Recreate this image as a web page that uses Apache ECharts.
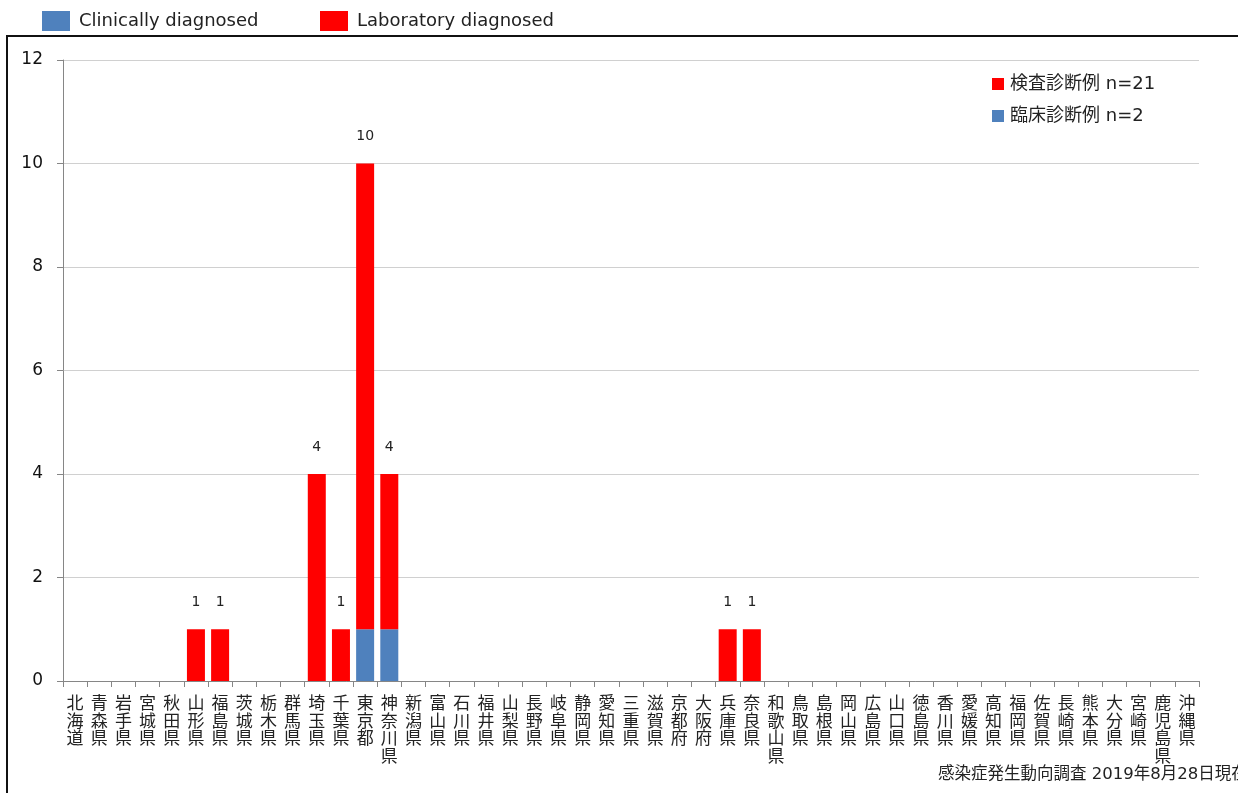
<!DOCTYPE html>
<html>
<head>
<meta charset="utf-8">
<script src="https://cdn.jsdelivr.net/npm/echarts@6/dist/echarts.min.js"></script>
<style>
html,body{margin:0;padding:0;background:#fff;}
#chart{width:1238px;height:793px;}
</style>
</head>
<body>
<div id="chart"></div>
<script>
const prefectures = ['北海道','青森県','岩手県','宮城県','秋田県','山形県','福島県','茨城県','栃木県','群馬県','埼玉県','千葉県','東京都','神奈川県','新潟県','富山県','石川県','福井県','山梨県','長野県','岐阜県','静岡県','愛知県','三重県','滋賀県','京都府','大阪府','兵庫県','奈良県','和歌山県','鳥取県','島根県','岡山県','広島県','山口県','徳島県','香川県','愛媛県','高知県','福岡県','佐賀県','長崎県','熊本県','大分県','宮崎県','鹿児島県','沖縄県'];
// values per prefecture (same order as prefectures)
const clinical = [
  0,0,0,0,0, 0,0,0,0,0,   // 北海道..群馬県
  0,0,1,1,0, 0,0,0,0,0,   // 埼玉県..長野県
  0,0,0,0,0, 0,0,0,0,0,   // 岐阜県..和歌山県
  0,0,0,0,0, 0,0,0,0,0,   // 鳥取県..福岡県
  0,0,0,0,0, 0,0          // 佐賀県..沖縄県
];
const laboratory = [
  0,0,0,0,0, 1,1,0,0,0,   // 北海道..群馬県
  4,1,9,3,0, 0,0,0,0,0,   // 埼玉県..長野県
  0,0,0,0,0, 0,0,1,1,0,   // 岐阜県..和歌山県
  0,0,0,0,0, 0,0,0,0,0,   // 鳥取県..福岡県
  0,0,0,0,0, 0,0          // 佐賀県..沖縄県
];
const yTicks = [0,2,4,6,8,10,12];
const seriesNames = ['Clinically diagnosed','Laboratory diagnosed'];
const jpLegend = {'Laboratory diagnosed':'検査診断例 n=21','Clinically diagnosed':'臨床診断例 n=2'};
const footnote = '感染症発生動向調査 2019年8月28日現在';
</script>
<script>
const FONT = 'DejaVu Sans, "Noto Sans CJK JP", sans-serif';
const totals = prefectures.map((_, i) => clinical[i] + laboratory[i]);
const chart = echarts.init(document.getElementById('chart'));
const legendCommon = {
  orient: 'horizontal', icon: 'rect', itemWidth: 28, itemHeight: 20, top: 6,
  textStyle: { fontFamily: FONT, fontSize: 18, color: '#222', padding: [0,0,0,4] },
  selectedMode: false
};
chart.setOption({
  animation: false,
  backgroundColor: '#fff',
  color: ['#4f81bd', '#ff0000'],
  legend: [
    Object.assign({}, legendCommon, { left: 37, data: [seriesNames[0]] }),
    Object.assign({}, legendCommon, { left: 315, data: [seriesNames[1]] }),
    {
      orient: 'vertical', icon: 'rect', itemWidth: 12, itemHeight: 12,
      left: 987, top: 70, itemGap: 14, selectedMode: false,
      data: [seriesNames[1], seriesNames[0]],
      formatter: n => jpLegend[n],
      textStyle: { fontFamily: FONT, fontSize: 18, color: '#222', lineHeight: 18, padding: [0,0,0,1] }
    }
  ],
  grid: { left: 63, right: 39, top: 60, bottom: 112, containLabel: false },
  xAxis: {
    type: 'category',
    data: prefectures,
    boundaryGap: true,
    axisLine: { lineStyle: { color: '#868686', width: 1 } },
    axisTick: { show: true, length: 6, lineStyle: { color: '#868686' } },
    axisLabel: {
      interval: 0, margin: 15,
      fontFamily: FONT, fontSize: 17, lineHeight: 17.5, color: '#222',
      formatter: v => v.split('').join('\n')
    }
  },
  yAxis: {
    type: 'value', min: 0, max: 12, interval: 2,
    axisLine: { show: true, lineStyle: { color: '#868686' } },
    axisTick: { show: true, length: 6, lineStyle: { color: '#868686' } },
    splitLine: { lineStyle: { color: '#d0d0d0' } },
    axisLabel: { margin: 20, fontFamily: FONT, fontSize: 17, color: '#111',
      formatter: v => yTicks.includes(v) ? String(v) : '' }
  },
  series: [
    {
      name: seriesNames[0], type: 'bar', stack: 'total', barWidth: 18,
      data: clinical,
      label: { show: false }
    },
    {
      name: seriesNames[1], type: 'bar', stack: 'total', barWidth: 18,
      data: laboratory,
      label: {
        show: true, position: 'top', distance: 20,
        fontFamily: FONT, fontSize: 14, color: '#222',
        formatter: p => totals[p.dataIndex] > 0 ? String(totals[p.dataIndex]) : ''
      }
    }
  ],
  graphic: [
    { type: 'rect', silent: true, shape: { x: 7, y: 36, width: 1300, height: 800 },
      style: { fill: 'none', stroke: '#111', lineWidth: 2 } },
    { type: 'text', silent: true, x: 938, y: 775,
      style: { text: footnote, fontFamily: FONT, fontSize: 16.5, fill: '#222', textVerticalAlign: 'middle' } }
  ]
});
</script>
</body>
</html>
